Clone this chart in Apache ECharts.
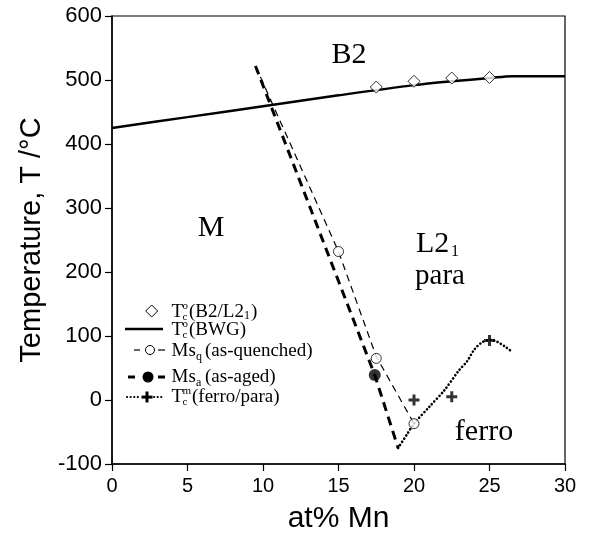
<!DOCTYPE html>
<html><head><meta charset="utf-8">
<script src="https://cdn.jsdelivr.net/npm/echarts@6/dist/echarts.min.js"></script>
<style>html,body{margin:0;padding:0;background:#fff}#c{width:589px;height:539px}</style>
</head><body><div id="c"></div>
<script>
// ---- data ----
const bwgX = [0, 5, 10, 15, 20, 22.5, 25, 26.5, 30];
const bwgT = [425, 442, 459, 476, 492, 498, 503, 506, 506];
const b2l21X = [17.5, 20, 22.5, 25];
const b2l21T = [489, 498, 503, 504];
const msqX = [15, 17.5, 20];
const msqT = [232, 65, -37];
const msqLineX = [9.5, 15, 17.5, 20];
const msqLineT = [522, 232, 68, -37];
const msaX = [17.4];
const msaT = [39];
const msaLineX = [9.5, 17.4, 18.95];
const msaLineT = [522, 39, -75];
const ferroLineX = [18.95, 19.5, 20, 21, 22, 23, 23.5, 24, 24.5, 25, 25.5, 26, 26.4];
const ferroLineT = [-75, -55, -37, -11, 15, 47, 60, 79, 90, 94, 91, 84, 77];
const tcmX = [20, 22.5, 25];
const tcmT = [0, 5, 93];
const xTickVals = [0, 5, 10, 15, 20, 25, 30];
const yTickVals = [-100, 0, 100, 200, 300, 400, 500, 600];

const zip = (a, b) => a.map((v, i) => [v, b[i]]);
const plusPath = 'path://M4,0L7,0L7,4L11,4L11,7L7,7L7,11L4,11L4,7L0,7L0,4L4,4Z';
const diaPath = 'path://M5,0L10,5L5,10L0,5Z';

const serif = '"Liberation Serif", "DejaVu Serif", serif';
const sans = '"Liberation Sans", Arial, sans-serif';

function txt(x, y, s, size, align) {
  return { type: 'text', x: x, y: y, z: 100,
    style: { text: s, font: size + 'px ' + serif, fill: '#000',
      textAlign: align || 'left', textVerticalAlign: 'middle' } };
}

const chart = echarts.init(document.getElementById('c'), null, {renderer: 'canvas'});
const graphic = [
  // region labels
  txt(349, 55, 'B2', 30, 'center'),
  txt(211, 228, 'M', 30, 'center'),
  txt(416, 244, 'L2', 30, 'left'),
  txt(451, 252, '1', 16, 'left'),
  txt(440, 276, 'para', 29, 'center'),
  txt(484, 432, 'ferro', 30, 'center'),
  // legend row 1: diamond
  { type: 'polygon', z: 100, shape: { points: [[151.7, 305], [157.7, 311], [151.7, 317], [145.7, 311]] },
    style: { fill: '#fff', stroke: '#000', lineWidth: 1 } },
  txt(171.5, 312, 'T', 19), txt(182.5, 306, 'o', 11), txt(182.5, 317, 'c', 11),
  txt(189, 312, '(B2/L2', 19), txt(244, 316, '1', 12), txt(251, 312, ')', 19),
  // row 2: solid
  { type: 'line', z: 100, shape: { x1: 125, y1: 329, x2: 163, y2: 329 }, style: { stroke: '#000', lineWidth: 2.5 } },
  txt(171.5, 330, 'T', 19), txt(182.5, 324, 'o', 11), txt(182.5, 335, 'c', 11),
  txt(189, 330, '(BWG)', 19),
  // row 3: thin dash + open circle
  { type: 'line', z: 100, shape: { x1: 134, y1: 350, x2: 140, y2: 350 }, style: { stroke: '#000', lineWidth: 1.2 } },
  { type: 'line', z: 100, shape: { x1: 158, y1: 350, x2: 165, y2: 350 }, style: { stroke: '#000', lineWidth: 1.2 } },
  { type: 'circle', z: 100, shape: { cx: 150, cy: 350, r: 4.5 }, style: { fill: '#fff', stroke: '#000', lineWidth: 1 } },
  txt(171.5, 351, 'Ms', 19), txt(196, 357, 'q', 12), txt(205, 351, '(as-quenched)', 19),
  // row 4: thick dash + filled circle
  { type: 'line', z: 100, shape: { x1: 128, y1: 377, x2: 135, y2: 377 }, style: { stroke: '#000', lineWidth: 3 } },
  { type: 'line', z: 100, shape: { x1: 158, y1: 377, x2: 165, y2: 377 }, style: { stroke: '#000', lineWidth: 3 } },
  { type: 'circle', z: 100, shape: { cx: 148, cy: 377, r: 5.5 }, style: { fill: '#000' } },
  txt(171.5, 377, 'Ms', 19), txt(196, 383, 'a', 12), txt(205, 377, '(as-aged)', 19),
  // row 5: dotted + plus
  { type: 'line', z: 100, shape: { x1: 127, y1: 397, x2: 141, y2: 397 },
    style: { stroke: '#000', lineWidth: 2.2, lineDash: [0.1, 3.5], lineCap: 'round' } },
  { type: 'line', z: 100, shape: { x1: 154, y1: 397, x2: 164, y2: 397 },
    style: { stroke: '#000', lineWidth: 2.2, lineDash: [0.1, 3.5], lineCap: 'round' } },
  { type: 'rect', z: 100, shape: { x: 141.5, y: 395.6, width: 11, height: 3 }, style: { fill: '#000' } },
  { type: 'rect', z: 100, shape: { x: 145.5, y: 391.5, width: 3, height: 11 }, style: { fill: '#000' } },
  txt(171.5, 397, 'T', 19), txt(182.5, 391, 'm', 11), txt(182.5, 402, 'c', 11),
  txt(192, 397, '(ferro/para)', 19)
];

const option = {
  animation: false,
  backgroundColor: '#fff',
  grid: { left: 112, right: 24, top: 16, bottom: 75, show: true, borderColor: '#000', borderWidth: 1.2, backgroundColor: 'transparent' },
  xAxis: {
    type: 'value', min: xTickVals[0], max: xTickVals[xTickVals.length - 1], interval: 5,
    name: 'at% Mn', nameLocation: 'middle', nameGap: 40,
    nameTextStyle: { fontFamily: sans, fontSize: 30, color: '#000' },
    axisLine: { onZero: false, lineStyle: { color: '#000', width: 1.5 } },
    axisTick: { show: true, length: 7, lineStyle: { color: '#000', width: 1.2 } },
    axisLabel: { fontFamily: sans, fontSize: 20, color: '#000', margin: 12 },
    splitLine: { show: false }
  },
  yAxis: {
    type: 'value', min: yTickVals[0], max: yTickVals[yTickVals.length - 1], interval: 100,
    name: 'Temperature, T /°C', nameLocation: 'middle', nameGap: 66, nameRotate: 90,
    nameTextStyle: { fontFamily: sans, fontSize: 29, color: '#000' },
    axisLine: { onZero: false, lineStyle: { color: '#000', width: 1.5 } },
    axisTick: { show: true, length: 7, lineStyle: { color: '#000', width: 1.2 } },
    axisLabel: { fontFamily: sans, fontSize: 22, color: '#000', margin: 10 },
    splitLine: { show: false }
  },
  graphic: graphic,
  series: [
    { name: 'Tc(BWG)', type: 'line', data: zip(bwgX, bwgT), smooth: 0.3, symbol: 'none',
      lineStyle: { color: '#000', width: 2.5 }, z: 2 },
    { name: 'Ms_q line', type: 'line', data: zip(msqLineX, msqLineT), symbol: 'none',
      lineStyle: { color: '#000', width: 1.2, type: [7, 5] }, z: 2 },
    { name: 'Ms_a line', type: 'line', data: zip(msaLineX, msaLineT), symbol: 'none',
      lineStyle: { color: '#000', width: 3, type: [9, 6] }, z: 2 },
    { name: 'ferro/para line', type: 'line', data: zip(ferroLineX, ferroLineT), smooth: 0.3, symbol: 'none',
      lineStyle: { color: '#000', width: 2.6, type: [0.1, 3.6], cap: 'round' }, z: 2 },
    { name: 'Tc(B2/L21)', type: 'scatter', data: zip(b2l21X, b2l21T), symbol: diaPath, symbolSize: 12,
      itemStyle: { color: '#fff', borderColor: '#000', borderWidth: 1 }, z: 5 },
    { name: 'Ms_q', type: 'scatter', data: zip(msqX, msqT), symbol: 'circle', symbolSize: 10,
      itemStyle: { color: '#fff', borderColor: '#000', borderWidth: 1 }, z: 5 },
    { name: 'Ms_a', type: 'scatter', data: zip(msaX, msaT), symbol: 'circle', symbolSize: 12,
      itemStyle: { color: '#000' }, z: 5 },
    { name: 'Tc_m', type: 'scatter', data: zip(tcmX, tcmT), symbol: plusPath, symbolSize: 11,
      itemStyle: { color: '#000' }, z: 5 }
  ]
};
chart.setOption(option);
</script></body></html>
